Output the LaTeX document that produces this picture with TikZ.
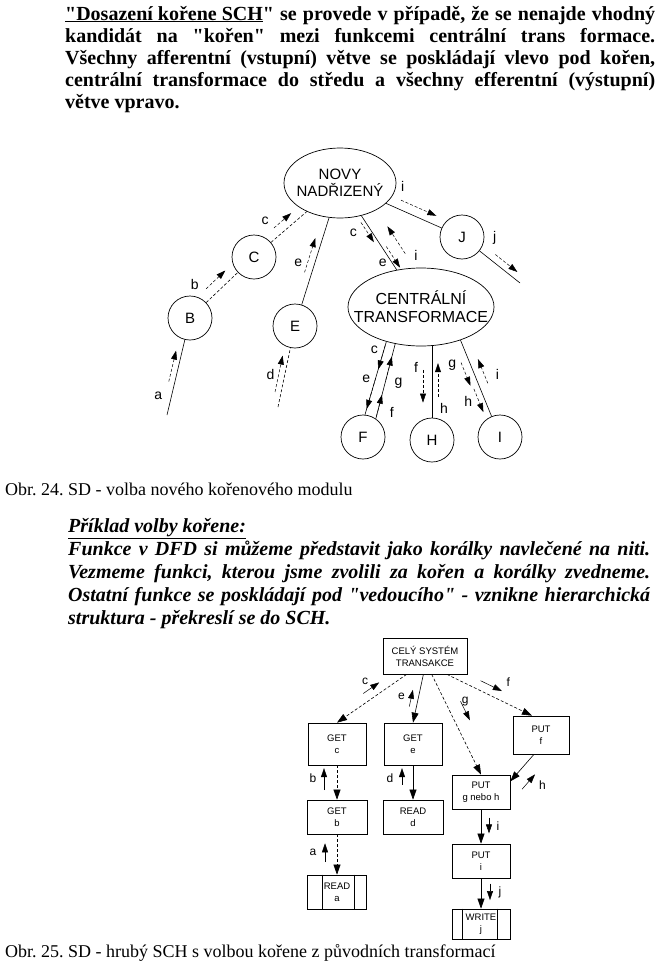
\documentclass[tikz,border=0pt]{standalone}
\usepackage{fontspec}
\setmainfont{Liberation Serif}[Ligatures=TeXOff]
\setsansfont{Liberation Sans}
\usetikzlibrary{calc,arrows.meta,shapes.geometric}
\frenchspacing

\newcounter{dfl}
% data couple: from, to, start, end, shift, label, label pos, label shift
\newcommand{\dflow}[8]{%
  \stepcounter{dfl}%
  \draw[flow] ($(#1)!#3!(#2)!#5!90:(#2)$) -- ($(#1)!#4!(#2)!#5!90:(#2)$);
  \node[lbl] (dfl\arabic{dfl}) at ($(#1)!#7!(#2)!#8!90:(#2)$) {#6};}

\tikzset{
  bub/.style={draw, line width=0.7pt, circle, minimum size=44pt, inner sep=0pt,
    font=\sffamily\fontsize{15}{17}\selectfont},
  bubel/.style={draw, line width=0.7pt, ellipse, inner sep=0pt},
  bubtxt/.style={align=center, inner sep=0pt, font=\sffamily\fontsize{15}{17}\selectfont},
  box/.style={draw, line width=0.7pt, inner sep=0pt, align=center,
    font=\sffamily\fontsize{9.5}{12}\selectfont},
  link/.style={line width=0.6pt},
  call/.style={line width=0.6pt, -{Triangle[length=10pt,width=7pt]}},
  flow/.style={line width=0.5pt, densely dashed, -{Triangle[length=9pt,width=6pt]}},
  lbl/.style={inner sep=0pt, font=\sffamily\fontsize{14}{14}\selectfont},
  txt/.style={anchor=base west, inner sep=0pt}
}

\begin{document}
\begin{tikzpicture}[x=1pt, y=-1pt]

    \useasboundingbox (0,0) rectangle (661,977);

    % Opening paragraph
    \node[txt, font=\fontsize{20}{22}\selectfont\bfseries] (p1a) at (65,20)
    {\makebox[590pt][s]{\underline{"Dosazení kořene SCH}" se provede v případě, že se nenajde vhodný}};
    \node[txt, font=\fontsize{20}{22}\selectfont\bfseries] (p1b) at (65,42)
    {\makebox[590pt][s]{kandidát na "kořen" mezi funkcemi centrální trans formace.}};
    \node[txt, font=\fontsize{20}{22}\selectfont\bfseries] (p1c) at (65,64)
    {\makebox[590pt][s]{Všechny afferentní (vstupní) větve se poskládají vlevo pod kořen,}};
    \node[txt, font=\fontsize{20}{22}\selectfont\bfseries] (p1d) at (65,86)
    {\makebox[590pt][s]{centrální transformace do středu a všechny efferentní (výstupní)}};
    \node[txt, font=\fontsize{20}{22}\selectfont\bfseries] (p1e) at (65,108)
    {větve vpravo.};

    % Bubbles of the first diagram
    \node[bubel, minimum width=112pt, minimum height=70pt] (nov) at (340,183) {};
    \node[bubtxt] (novt) at (nov) {NOVY\\NADŘIZENÝ};
    \node[bubel, minimum width=146pt, minimum height=78pt] (cen) at (421,307) {};
    \node[bubtxt, font=\sffamily\fontsize{16}{18}\selectfont] (cent) at (cen)
    {CENTRÁLNÍ\\TRANSFORMACE};
    \foreach \n/\t/\x/\y in {bb/B/190/318, cc/C/254/257, ee/E/295/326,
      jj/J/462/237, ff/F/363/437, hh/H/432/440, ii/I/500/437}
    \node[bub] (\n) at (\x,\y) {\t};

    % Free ends
    \coordinate (aend) at (167,415);
    \coordinate (dend) at (278,407);
    \coordinate (jend) at (520,283);
    \coordinate (hcon) at (hh.north |- cen.south);

    % Links between bubbles
    \draw[link] (aend) -- (bb);
    \draw[link, densely dashed] (dend) -- (ee);
    \draw[link, densely dashed] (bb) -- (cc);
    \draw[link, densely dashed] (cc) -- (nov);
    \draw[link] (ee) -- (nov);
    \draw[link] (nov) -- (jj);
    \draw[link] (jj) -- (jend);
    \draw[link] (nov) -- (cen);
    \draw[link] (cen.225) -- (ff.85);
    \draw[link] (cen.235) -- (ff.55);
    \draw[link] (hcon) -- (hh);
    \draw[link] (cen.320) -- (ii);

    % Data flows, afferent side
    \dflow{aend}{bb}{.33}{.65}{6pt}{a}{.17}{13pt}
    \dflow{dend}{ee}{.17}{.62}{6pt}{d}{.37}{14pt}
    \dflow{bb}{cc}{.36}{.66}{10pt}{b}{.3}{21pt}
    \dflow{cc}{nov}{.3}{.5}{9pt}{c}{.28}{20pt}
    \dflow{ee}{nov}{.36}{.6}{7pt}{e}{.41}{16pt}

    % Data flows, efferent side
    \dflow{nov}{jj}{.47}{.76}{9pt}{i}{.44}{22pt}
    \dflow{jj}{jend}{.5}{.88}{7pt}{j}{.35}{20pt}

    % Data flows round the central transformation
    \dflow{nov}{cen}{.3}{.46}{-4pt}{c}{.33}{-16pt}
    \dflow{nov}{cen}{.53}{.7}{4pt}{e}{.61}{-8pt}
    \dflow{nov}{cen}{.64}{.42}{16pt}{i}{.69}{24pt}
    \dflow{cen.225}{ff.85}{.05}{.38}{0pt}{c}{.15}{-9pt}
    \dflow{cen.225}{ff.85}{.5}{.92}{0pt}{e}{.54}{-9pt}
    \dflow{cen.235}{ff.55}{.48}{.17}{0pt}{g}{.48}{13pt}
    \dflow{cen.235}{ff.55}{.97}{.68}{0pt}{f}{.87}{14pt}
    \dflow{hcon}{hh}{.25}{.6}{-9pt}{f}{.22}{-16pt}
    \dflow{hcon}{hh}{.54}{.18}{6pt}{h}{.66}{12pt}
    \dflow{cen.320}{ii}{.2}{.44}{-8pt}{g}{.19}{-17pt}
    \dflow{cen.320}{ii}{.48}{.72}{-6pt}{h}{.57}{-16pt}
    \dflow{cen.320}{ii}{.48}{.23}{9pt}{i}{.44}{21pt}

    % Caption of the first figure
    \node[txt, font=\fontsize{18}{20}\selectfont] (obr24) at (5,495)
    {Obr. 24. SD - volba nového kořenového modulu};

    % Example paragraph
    \node[txt, font=\fontsize{20}{22}\selectfont\bfseries\itshape] (p2a) at (68,532)
    {\underline{Příklad volby kořene:}};
    \node[txt, font=\fontsize{20}{22}\selectfont\bfseries\itshape] (p2b) at (68,555)
    {\makebox[582pt][s]{Funkce v DFD si můžeme představit jako korálky navlečené na niti.}};
    \node[txt, font=\fontsize{20}{22}\selectfont\bfseries\itshape] (p2c) at (68,578)
    {\makebox[582pt][s]{Vezmeme funkci, kterou jsme zvolili za kořen a korálky zvedneme.}};
    \node[txt, font=\fontsize{20}{22}\selectfont\bfseries\itshape] (p2d) at (68,601)
    {\makebox[582pt][s]{Ostatní funkce se poskládají pod "vedoucího" - vznikne hierarchická}};
    \node[txt, font=\fontsize{20}{22}\selectfont\bfseries\itshape] (p2e) at (68,624)
    {struktura - překreslí se do SCH.};

    % Modules of the structure chart
    \node[box, minimum width=84pt, minimum height=36pt] (cel) at (425,656)
    {CELÝ SYSTÉM\\TRANSAKCE};
    \foreach \n/\x/\y/\w/\h/\t in {getc/337/744/58/42/{GET\\c},
      gete/413/744/58/42/{GET\\e}, putf/541/735/56/38/{PUT\\f},
      putg/481/792/58/34/{PUT\\g nebo h}, getb/337/817/60/34/{GET\\b},
      readd/413/817/60/34/{READ\\d}, puti/481/861/58/34/{PUT\\i},
      reada/337/892/59/34/{READ\\a}, writej/481/924/58/30/{WRITE\\j}}
    \node[box, minimum width=\w pt, minimum height=\h pt] (\n) at (\x,\y) {\t};

    % Library modules get inner side bars
    \draw[link] ([xshift=15pt]reada.north west) -- ([xshift=15pt]reada.south west);
    \draw[link] ([xshift=-13pt]reada.north east) -- ([xshift=-13pt]reada.south east);
    \draw[link] ([xshift=11pt]writej.north west) -- ([xshift=11pt]writej.south west);
    \draw[link] ([xshift=-13pt]writej.north east) -- ([xshift=-13pt]writej.south east);

    % Calls
    \draw[call, densely dashed] (cel.225) -- (getc.north);
    \draw[call] (cel.265) -- (gete.north);
    \draw[call, densely dashed] (cel.290) -- (putg.north);
    \draw[call, densely dashed] (cel.320) -- (putf.115);
    \draw[call] (putf.250) -- (putg.20);
    \draw[call, densely dashed] (getc) -- (getb);
    \draw[call, densely dashed] (getb) -- (reada);
    \draw[call] (gete) -- (readd);
    \draw[call] (putg) -- (puti);
    \draw[call] (puti) -- (writej);

    % Couples of the structure chart
    \begin{scope}[lbl/.style={inner sep=0pt, font=\sffamily\fontsize{12}{12}\selectfont},
      flow/.style={line width=0.5pt, -{Triangle[length=9pt,width=6pt]}}]
    \dflow{cel.225}{getc.north}{.55}{.32}{-9pt}{c}{.45}{-18pt}
    \dflow{cel.265}{gete.north}{.7}{.35}{-7pt}{e}{.52}{-17pt}
    \dflow{cel.290}{putg.north}{.33}{.52}{14pt}{g}{.35}{18pt}
    \dflow{cel.320}{putf.115}{.35}{.6}{9pt}{f}{.62}{20pt}
    \dflow{putf.250}{putg.20}{.95}{.4}{14pt}{h}{.5}{27pt}
    \dflow{getc}{getb}{.63}{.33}{-13pt}{b}{.47}{-24pt}
    \dflow{getb}{reada}{.6}{.35}{-12pt}{a}{.47}{-24pt}
    \dflow{gete}{readd}{.56}{.33}{-11pt}{d}{.47}{-23pt}
    \dflow{putg}{puti}{.37}{.6}{8pt}{i}{.49}{17pt}
    \dflow{puti}{writej}{.36}{.62}{9pt}{j}{.5}{19pt}
    \end{scope}

    % Caption of the second figure
    \node[txt, font=\fontsize{18}{20}\selectfont] (obr25) at (5,957)
    {Obr. 25. SD - hrubý SCH s volbou kořene z původních transformací};

  \end{tikzpicture}
\end{document}
